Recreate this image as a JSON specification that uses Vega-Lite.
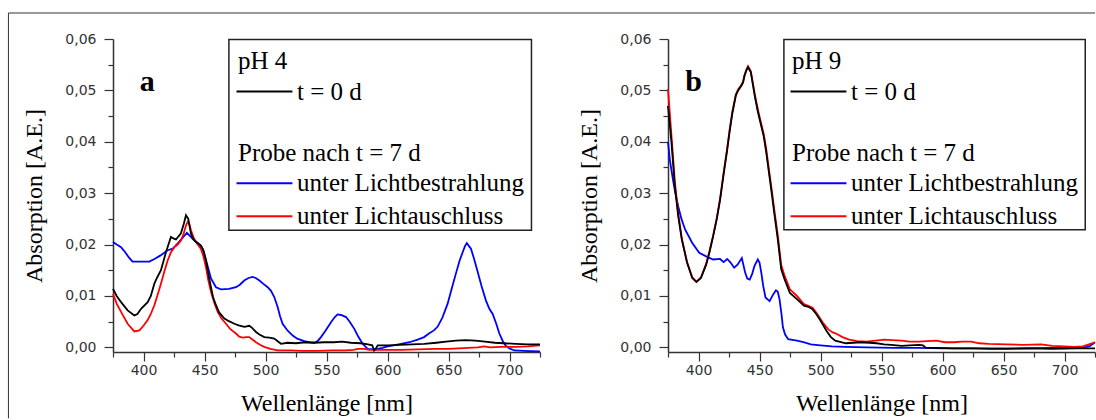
{
  "$schema": "https://vega.github.io/schema/vega-lite/v6.json",
  "background": "white",
  "padding": {"left": 7, "top": 12, "right": 0, "bottom": 0},
  "bounds": "flush",
  "spacing": 128,
  "config": {
    "view": {"stroke": null},
    "axis": {"grid": false, "domainColor": "#333", "domainWidth": 1.5, "tickColor": "#333", "tickWidth": 1.2, "labelFont": "DejaVu Sans", "labelFontSize": 14, "labelColor": "#333", "labelFlush": false, "labelOverlap": false, "titleFont": "Liberation Serif", "titleFontSize": 24, "titleFontWeight": "normal", "titleColor": "#000"},
    "legend": {"orient": "none", "padding": 0, "symbolType": "M-2.5,0H7.5", "symbolSize": 125, "symbolStrokeWidth": 2, "labelOffset": 34, "titlePadding": 5, "rowPadding": 7, "labelFont": "Liberation Serif", "labelFontSize": 25, "labelColor": "#000", "labelLimit": 400, "titleFont": "Liberation Serif", "titleFontSize": 25, "titleFontWeight": "normal", "titleColor": "#000", "titleLimit": 400}
  },
  "resolve": {"scale": {"color": "independent"}, "legend": {"color": "independent"}},
  "datasets": {
    "a0": [
      {"x":375,"y":0.0114},{"x":378,"y":0.0100},{"x":381.6,"y":0.0088},{"x":387,"y":0.0072},{"x":392.5,"y":0.0062},{"x":395,"y":0.0065},{"x":398,"y":0.0075},{"x":403.4,"y":0.0088},{"x":406,"y":0.0100},{"x":408.9,"y":0.0124},{"x":411,"y":0.0135},{"x":414.3,"y":0.0150},{"x":418.4,"y":0.0185},{"x":422.5,"y":0.0215},{"x":424.5,"y":0.0212},{"x":426.6,"y":0.0210},{"x":430.7,"y":0.0222},{"x":433,"y":0.0240},{"x":434.8,"y":0.0257},{"x":436.7,"y":0.0250},{"x":438.9,"y":0.0221},{"x":441,"y":0.0210},{"x":443,"y":0.0205},{"x":447,"y":0.0198},{"x":449,"y":0.0190},{"x":451.2,"y":0.0169},{"x":453,"y":0.0145},{"x":455.3,"y":0.0117},{"x":457,"y":0.0098},{"x":459.4,"y":0.0082},{"x":462,"y":0.0068},{"x":466.3,"y":0.0056},{"x":470,"y":0.0051},{"x":474.5,"y":0.0046},{"x":478,"y":0.0043},{"x":482.7,"y":0.0040},{"x":486.7,"y":0.0042},{"x":489,"y":0.0038},{"x":492.2,"y":0.0030},{"x":495,"y":0.0025},{"x":499,"y":0.0020},{"x":503,"y":0.0019},{"x":507.2,"y":0.0017},{"x":510,"y":0.0012},{"x":512.7,"y":0.0007},{"x":518,"y":0.0009},{"x":525,"y":0.0008},{"x":532,"y":0.0010},{"x":540,"y":0.0009},{"x":548,"y":0.0010},{"x":556,"y":0.0010},{"x":563,"y":0.0011},{"x":570,"y":0.0009},{"x":578,"y":0.0008},{"x":584,"y":0.0006},{"x":587.5,"y":0.0004},{"x":589,"y":-0.0006},{"x":590.5,"y":-0.0002},{"x":592,"y":0.0004},{"x":600,"y":0.0004},{"x":610,"y":0.0005},{"x":620,"y":0.0006},{"x":630,"y":0.0007},{"x":640,"y":0.0009},{"x":648,"y":0.0011},{"x":656,"y":0.0013},{"x":664,"y":0.0014},{"x":672,"y":0.0013},{"x":680,"y":0.0011},{"x":688,"y":0.0009},{"x":695,"y":0.0008},{"x":705,"y":0.0007},{"x":715,"y":0.0006},{"x":725,"y":0.0006}
    ],
    "a7": [
      {"s":"unter Lichtbestrahlung","x":375,"y":0.0205},{"s":"unter Lichtbestrahlung","x":378,"y":0.0200},{"s":"unter Lichtbestrahlung","x":381.6,"y":0.0195},{"s":"unter Lichtbestrahlung","x":385,"y":0.0185},{"s":"unter Lichtbestrahlung","x":388,"y":0.0175},{"s":"unter Lichtbestrahlung","x":391,"y":0.0167},{"s":"unter Lichtbestrahlung","x":398,"y":0.0167},{"s":"unter Lichtbestrahlung","x":404.8,"y":0.0167},{"s":"unter Lichtbestrahlung","x":409,"y":0.0172},{"s":"unter Lichtbestrahlung","x":414,"y":0.0179},{"s":"unter Lichtbestrahlung","x":417,"y":0.0184},{"s":"unter Lichtbestrahlung","x":419.8,"y":0.0189},{"s":"unter Lichtbestrahlung","x":424,"y":0.0192},{"s":"unter Lichtbestrahlung","x":426,"y":0.0197},{"s":"unter Lichtbestrahlung","x":429,"y":0.0205},{"s":"unter Lichtbestrahlung","x":432,"y":0.0213},{"s":"unter Lichtbestrahlung","x":435.6,"y":0.0223},{"s":"unter Lichtbestrahlung","x":438,"y":0.0217},{"s":"unter Lichtbestrahlung","x":440.3,"y":0.0211},{"s":"unter Lichtbestrahlung","x":443.5,"y":0.0205},{"s":"unter Lichtbestrahlung","x":447,"y":0.0198},{"s":"unter Lichtbestrahlung","x":449.5,"y":0.0185},{"s":"unter Lichtbestrahlung","x":452,"y":0.0163},{"s":"unter Lichtbestrahlung","x":455.3,"y":0.0134},{"s":"unter Lichtbestrahlung","x":459.4,"y":0.0117},{"s":"unter Lichtbestrahlung","x":463.5,"y":0.0113},{"s":"unter Lichtbestrahlung","x":470,"y":0.0114},{"s":"unter Lichtbestrahlung","x":475.8,"y":0.0117},{"s":"unter Lichtbestrahlung","x":479,"y":0.0122},{"s":"unter Lichtbestrahlung","x":482.6,"y":0.0130},{"s":"unter Lichtbestrahlung","x":486,"y":0.0135},{"s":"unter Lichtbestrahlung","x":489.5,"y":0.0137},{"s":"unter Lichtbestrahlung","x":492,"y":0.0135},{"s":"unter Lichtbestrahlung","x":495,"y":0.0130},{"s":"unter Lichtbestrahlung","x":498,"y":0.0124},{"s":"unter Lichtbestrahlung","x":501.8,"y":0.0117},{"s":"unter Lichtbestrahlung","x":504.5,"y":0.0110},{"s":"unter Lichtbestrahlung","x":507.2,"y":0.0098},{"s":"unter Lichtbestrahlung","x":510,"y":0.0078},{"s":"unter Lichtbestrahlung","x":512,"y":0.0060},{"s":"unter Lichtbestrahlung","x":514,"y":0.0046},{"s":"unter Lichtbestrahlung","x":518,"y":0.0033},{"s":"unter Lichtbestrahlung","x":522.3,"y":0.0023},{"s":"unter Lichtbestrahlung","x":526,"y":0.0017},{"s":"unter Lichtbestrahlung","x":531.8,"y":0.0012},{"s":"unter Lichtbestrahlung","x":536,"y":0.0010},{"s":"unter Lichtbestrahlung","x":540,"y":0.0009},{"s":"unter Lichtbestrahlung","x":543,"y":0.0013},{"s":"unter Lichtbestrahlung","x":545.5,"y":0.0020},{"s":"unter Lichtbestrahlung","x":549,"y":0.0032},{"s":"unter Lichtbestrahlung","x":553.7,"y":0.0049},{"s":"unter Lichtbestrahlung","x":556.5,"y":0.0058},{"s":"unter Lichtbestrahlung","x":559,"y":0.0064},{"s":"unter Lichtbestrahlung","x":562,"y":0.0063},{"s":"unter Lichtbestrahlung","x":566,"y":0.0059},{"s":"unter Lichtbestrahlung","x":569,"y":0.0050},{"s":"unter Lichtbestrahlung","x":572.8,"y":0.0036},{"s":"unter Lichtbestrahlung","x":576,"y":0.0021},{"s":"unter Lichtbestrahlung","x":579.6,"y":0.0007},{"s":"unter Lichtbestrahlung","x":583.7,"y":-0.0003},{"s":"unter Lichtbestrahlung","x":588,"y":-0.0004},{"s":"unter Lichtbestrahlung","x":592,"y":-0.0003},{"s":"unter Lichtbestrahlung","x":596,"y":-0.0001},{"s":"unter Lichtbestrahlung","x":600,"y":0.0002},{"s":"unter Lichtbestrahlung","x":605,"y":0.0004},{"s":"unter Lichtbestrahlung","x":611,"y":0.0007},{"s":"unter Lichtbestrahlung","x":618,"y":0.0010},{"s":"unter Lichtbestrahlung","x":624.7,"y":0.0015},{"s":"unter Lichtbestrahlung","x":630,"y":0.0020},{"s":"unter Lichtbestrahlung","x":634,"y":0.0027},{"s":"unter Lichtbestrahlung","x":638,"y":0.0033},{"s":"unter Lichtbestrahlung","x":641,"y":0.0040},{"s":"unter Lichtbestrahlung","x":645,"y":0.0058},{"s":"unter Lichtbestrahlung","x":649.3,"y":0.0085},{"s":"unter Lichtbestrahlung","x":652.5,"y":0.0113},{"s":"unter Lichtbestrahlung","x":656,"y":0.0143},{"s":"unter Lichtbestrahlung","x":659,"y":0.0168},{"s":"unter Lichtbestrahlung","x":661.6,"y":0.0185},{"s":"unter Lichtbestrahlung","x":663.5,"y":0.0197},{"s":"unter Lichtbestrahlung","x":665,"y":0.0203},{"s":"unter Lichtbestrahlung","x":666.5,"y":0.0198},{"s":"unter Lichtbestrahlung","x":668.4,"y":0.0192},{"s":"unter Lichtbestrahlung","x":671,"y":0.0172},{"s":"unter Lichtbestrahlung","x":673.9,"y":0.0147},{"s":"unter Lichtbestrahlung","x":677,"y":0.0120},{"s":"unter Lichtbestrahlung","x":680.7,"y":0.0091},{"s":"unter Lichtbestrahlung","x":683.5,"y":0.0075},{"s":"unter Lichtbestrahlung","x":686.2,"y":0.0065},{"s":"unter Lichtbestrahlung","x":689,"y":0.0047},{"s":"unter Lichtbestrahlung","x":691.7,"y":0.0027},{"s":"unter Lichtbestrahlung","x":694.5,"y":0.0012},{"s":"unter Lichtbestrahlung","x":697,"y":0.0003},{"s":"unter Lichtbestrahlung","x":700,"y":-0.0002},{"s":"unter Lichtbestrahlung","x":704,"y":-0.0006},{"s":"unter Lichtbestrahlung","x":712,"y":-0.0007},{"s":"unter Lichtbestrahlung","x":725,"y":-0.0008},
      {"s":"unter Lichtauschluss","x":375,"y":0.0104},{"s":"unter Lichtauschluss","x":378,"y":0.0085},{"s":"unter Lichtauschluss","x":381.6,"y":0.0069},{"s":"unter Lichtauschluss","x":387,"y":0.0046},{"s":"unter Lichtauschluss","x":392.5,"y":0.0031},{"s":"unter Lichtauschluss","x":396.6,"y":0.0033},{"s":"unter Lichtauschluss","x":400,"y":0.0042},{"s":"unter Lichtauschluss","x":403.4,"y":0.0053},{"s":"unter Lichtauschluss","x":406,"y":0.0065},{"s":"unter Lichtauschluss","x":408.9,"y":0.0082},{"s":"unter Lichtauschluss","x":411.5,"y":0.0102},{"s":"unter Lichtauschluss","x":414.3,"y":0.0124},{"s":"unter Lichtauschluss","x":417,"y":0.0147},{"s":"unter Lichtauschluss","x":419.8,"y":0.0169},{"s":"unter Lichtauschluss","x":422.5,"y":0.0185},{"s":"unter Lichtauschluss","x":425.3,"y":0.0195},{"s":"unter Lichtauschluss","x":428,"y":0.0200},{"s":"unter Lichtauschluss","x":430.7,"y":0.0208},{"s":"unter Lichtauschluss","x":433,"y":0.0222},{"s":"unter Lichtauschluss","x":434.8,"y":0.0237},{"s":"unter Lichtauschluss","x":436.2,"y":0.0244},{"s":"unter Lichtauschluss","x":437.5,"y":0.0240},{"s":"unter Lichtauschluss","x":438.9,"y":0.0228},{"s":"unter Lichtauschluss","x":441,"y":0.0214},{"s":"unter Lichtauschluss","x":443,"y":0.0205},{"s":"unter Lichtauschluss","x":447,"y":0.0192},{"s":"unter Lichtauschluss","x":449,"y":0.0178},{"s":"unter Lichtauschluss","x":451.2,"y":0.0156},{"s":"unter Lichtauschluss","x":453,"y":0.0132},{"s":"unter Lichtauschluss","x":455.3,"y":0.0108},{"s":"unter Lichtauschluss","x":458,"y":0.0087},{"s":"unter Lichtauschluss","x":460.8,"y":0.0069},{"s":"unter Lichtauschluss","x":464,"y":0.0056},{"s":"unter Lichtauschluss","x":467.6,"y":0.0046},{"s":"unter Lichtauschluss","x":471,"y":0.0036},{"s":"unter Lichtauschluss","x":475.8,"y":0.0027},{"s":"unter Lichtauschluss","x":478.5,"y":0.0021},{"s":"unter Lichtauschluss","x":481.3,"y":0.0019},{"s":"unter Lichtauschluss","x":484,"y":0.0020},{"s":"unter Lichtauschluss","x":486.7,"y":0.0020},{"s":"unter Lichtauschluss","x":489.5,"y":0.0015},{"s":"unter Lichtauschluss","x":492.2,"y":0.0010},{"s":"unter Lichtauschluss","x":495.5,"y":0.0005},{"s":"unter Lichtauschluss","x":499,"y":0.0001},{"s":"unter Lichtauschluss","x":504,"y":-0.0003},{"s":"unter Lichtauschluss","x":510,"y":-0.0006},{"s":"unter Lichtauschluss","x":520,"y":-0.0006},{"s":"unter Lichtauschluss","x":530,"y":-0.0007},{"s":"unter Lichtauschluss","x":542.8,"y":-0.0007},{"s":"unter Lichtauschluss","x":555,"y":-0.0006},{"s":"unter Lichtauschluss","x":565,"y":-0.0006},{"s":"unter Lichtauschluss","x":572,"y":-0.0005},{"s":"unter Lichtauschluss","x":576,"y":-0.0003},{"s":"unter Lichtauschluss","x":580.8,"y":-0.0003},{"s":"unter Lichtauschluss","x":585,"y":-0.0005},{"s":"unter Lichtauschluss","x":595,"y":-0.0005},{"s":"unter Lichtauschluss","x":610.7,"y":-0.0005},{"s":"unter Lichtauschluss","x":625,"y":-0.0004},{"s":"unter Lichtauschluss","x":638.4,"y":-0.0003},{"s":"unter Lichtauschluss","x":650,"y":-0.0003},{"s":"unter Lichtauschluss","x":666,"y":-0.0001},{"s":"unter Lichtauschluss","x":674,"y":0.0000},{"s":"unter Lichtauschluss","x":679.4,"y":0.0002},{"s":"unter Lichtauschluss","x":684,"y":0.0000},{"s":"unter Lichtauschluss","x":693,"y":0.0001},{"s":"unter Lichtauschluss","x":705,"y":0.0001},{"s":"unter Lichtauschluss","x":715,"y":0.0002},{"s":"unter Lichtauschluss","x":725,"y":0.0004}
    ],
    "b0": [
      {"x":375,"y":0.0470},{"x":377.7,"y":0.0403},{"x":380.6,"y":0.0313},{"x":383.4,"y":0.0255},{"x":386.3,"y":0.0210},{"x":390.6,"y":0.0165},{"x":394.9,"y":0.0135},{"x":398.3,"y":0.0127},{"x":402,"y":0.0135},{"x":406.3,"y":0.0161},{"x":409,"y":0.0185},{"x":412,"y":0.0216},{"x":415,"y":0.0250},{"x":417.7,"y":0.0287},{"x":420.5,"y":0.0335},{"x":423.5,"y":0.0384},{"x":425.5,"y":0.0420},{"x":427.7,"y":0.0455},{"x":430.6,"y":0.0490},{"x":432.5,"y":0.0500},{"x":434.9,"y":0.0508},{"x":436.5,"y":0.0515},{"x":437.8,"y":0.0529},{"x":439.5,"y":0.0540},{"x":440.6,"y":0.0545},{"x":442.9,"y":0.0535},{"x":444.5,"y":0.0512},{"x":446.3,"y":0.0487},{"x":448.5,"y":0.0460},{"x":450.6,"y":0.0439},{"x":453.5,"y":0.0410},{"x":455.5,"y":0.0380},{"x":457.8,"y":0.0339},{"x":460,"y":0.0300},{"x":462.1,"y":0.0261},{"x":465,"y":0.0210},{"x":467.8,"y":0.0152},{"x":470.6,"y":0.0132},{"x":474.9,"y":0.0106},{"x":480.7,"y":0.0094},{"x":486.4,"y":0.0081},{"x":490,"y":0.0079},{"x":493.5,"y":0.0074},{"x":496.5,"y":0.0065},{"x":499.2,"y":0.0055},{"x":502,"y":0.0044},{"x":505,"y":0.0032},{"x":508.5,"y":0.0020},{"x":512.1,"y":0.0013},{"x":520.7,"y":0.0008},{"x":527,"y":0.0009},{"x":532.1,"y":0.0010},{"x":540,"y":0.0009},{"x":546,"y":0.0008},{"x":552.2,"y":0.0006},{"x":558,"y":0.0005},{"x":566.5,"y":0.0003},{"x":573,"y":0.0004},{"x":580.8,"y":0.0005},{"x":584,"y":0.0004},{"x":586.5,"y":-0.0001},{"x":595,"y":-0.0001},{"x":609.4,"y":-0.0002},{"x":625,"y":-0.0002},{"x":640,"y":-0.0003},{"x":652.3,"y":-0.0003},{"x":670,"y":-0.0002},{"x":690,"y":-0.0003},{"x":710,"y":-0.0002},{"x":725,"y":-0.0002}
    ],
    "b7": [
      {"s":"unter Lichtbestrahlung","x":375,"y":0.0400},{"s":"unter Lichtbestrahlung","x":376.5,"y":0.0365},{"s":"unter Lichtbestrahlung","x":379.1,"y":0.0326},{"s":"unter Lichtbestrahlung","x":381,"y":0.0300},{"s":"unter Lichtbestrahlung","x":383.4,"y":0.0274},{"s":"unter Lichtbestrahlung","x":386,"y":0.0250},{"s":"unter Lichtbestrahlung","x":389.1,"y":0.0229},{"s":"unter Lichtbestrahlung","x":394.9,"y":0.0203},{"s":"unter Lichtbestrahlung","x":400.6,"y":0.0184},{"s":"unter Lichtbestrahlung","x":406.3,"y":0.0177},{"s":"unter Lichtbestrahlung","x":412,"y":0.0171},{"s":"unter Lichtbestrahlung","x":417.7,"y":0.0172},{"s":"unter Lichtbestrahlung","x":420.6,"y":0.0166},{"s":"unter Lichtbestrahlung","x":423.5,"y":0.0172},{"s":"unter Lichtbestrahlung","x":426.3,"y":0.0165},{"s":"unter Lichtbestrahlung","x":429.2,"y":0.0155},{"s":"unter Lichtbestrahlung","x":432,"y":0.0161},{"s":"unter Lichtbestrahlung","x":435.5,"y":0.0174},{"s":"unter Lichtbestrahlung","x":438.3,"y":0.0145},{"s":"unter Lichtbestrahlung","x":440,"y":0.0134},{"s":"unter Lichtbestrahlung","x":442,"y":0.0132},{"s":"unter Lichtbestrahlung","x":444,"y":0.0143},{"s":"unter Lichtbestrahlung","x":445.8,"y":0.0158},{"s":"unter Lichtbestrahlung","x":448.6,"y":0.0171},{"s":"unter Lichtbestrahlung","x":450,"y":0.0165},{"s":"unter Lichtbestrahlung","x":451.5,"y":0.0145},{"s":"unter Lichtbestrahlung","x":453,"y":0.0120},{"s":"unter Lichtbestrahlung","x":454.9,"y":0.0097},{"s":"unter Lichtbestrahlung","x":458.3,"y":0.0090},{"s":"unter Lichtbestrahlung","x":461.2,"y":0.0103},{"s":"unter Lichtbestrahlung","x":463.5,"y":0.0111},{"s":"unter Lichtbestrahlung","x":465,"y":0.0108},{"s":"unter Lichtbestrahlung","x":466.4,"y":0.0094},{"s":"unter Lichtbestrahlung","x":468,"y":0.0065},{"s":"unter Lichtbestrahlung","x":469.2,"y":0.0039},{"s":"unter Lichtbestrahlung","x":471,"y":0.0025},{"s":"unter Lichtbestrahlung","x":473.5,"y":0.0016},{"s":"unter Lichtbestrahlung","x":480.7,"y":0.0013},{"s":"unter Lichtbestrahlung","x":486,"y":0.0010},{"s":"unter Lichtbestrahlung","x":492.1,"y":0.0006},{"s":"unter Lichtbestrahlung","x":500,"y":0.0004},{"s":"unter Lichtbestrahlung","x":509.3,"y":0.0002},{"s":"unter Lichtbestrahlung","x":520,"y":0.0001},{"s":"unter Lichtbestrahlung","x":537.9,"y":0.0000},{"s":"unter Lichtbestrahlung","x":560,"y":-0.0001},{"s":"unter Lichtbestrahlung","x":580,"y":-0.0001},{"s":"unter Lichtbestrahlung","x":600,"y":-0.0002},{"s":"unter Lichtbestrahlung","x":630,"y":-0.0002},{"s":"unter Lichtbestrahlung","x":660,"y":-0.0002},{"s":"unter Lichtbestrahlung","x":690,"y":-0.0001},{"s":"unter Lichtbestrahlung","x":710,"y":-0.0001},{"s":"unter Lichtbestrahlung","x":718,"y":0.0001},{"s":"unter Lichtbestrahlung","x":721,"y":0.0003},{"s":"unter Lichtbestrahlung","x":725,"y":0.0010},
      {"s":"unter Lichtauschluss","x":375,"y":0.0503},{"s":"unter Lichtauschluss","x":377.7,"y":0.0416},{"s":"unter Lichtauschluss","x":380.6,"y":0.0323},{"s":"unter Lichtauschluss","x":383.4,"y":0.0260},{"s":"unter Lichtauschluss","x":386.3,"y":0.0212},{"s":"unter Lichtauschluss","x":390.6,"y":0.0166},{"s":"unter Lichtauschluss","x":394.9,"y":0.0136},{"s":"unter Lichtauschluss","x":398.3,"y":0.0128},{"s":"unter Lichtauschluss","x":402,"y":0.0136},{"s":"unter Lichtauschluss","x":406.3,"y":0.0163},{"s":"unter Lichtauschluss","x":409,"y":0.0187},{"s":"unter Lichtauschluss","x":412,"y":0.0218},{"s":"unter Lichtauschluss","x":415,"y":0.0252},{"s":"unter Lichtauschluss","x":417.7,"y":0.0290},{"s":"unter Lichtauschluss","x":420.5,"y":0.0338},{"s":"unter Lichtauschluss","x":423.5,"y":0.0387},{"s":"unter Lichtauschluss","x":425.5,"y":0.0423},{"s":"unter Lichtauschluss","x":427.7,"y":0.0458},{"s":"unter Lichtauschluss","x":430.6,"y":0.0492},{"s":"unter Lichtauschluss","x":432.5,"y":0.0502},{"s":"unter Lichtauschluss","x":434.9,"y":0.0510},{"s":"unter Lichtauschluss","x":436.5,"y":0.0517},{"s":"unter Lichtauschluss","x":437.8,"y":0.0531},{"s":"unter Lichtauschluss","x":439.5,"y":0.0542},{"s":"unter Lichtauschluss","x":440.6,"y":0.0547},{"s":"unter Lichtauschluss","x":442.9,"y":0.0537},{"s":"unter Lichtauschluss","x":444.5,"y":0.0515},{"s":"unter Lichtauschluss","x":446.3,"y":0.0490},{"s":"unter Lichtauschluss","x":448.5,"y":0.0465},{"s":"unter Lichtauschluss","x":450.6,"y":0.0443},{"s":"unter Lichtauschluss","x":453.5,"y":0.0415},{"s":"unter Lichtauschluss","x":455.5,"y":0.0386},{"s":"unter Lichtauschluss","x":457.8,"y":0.0345},{"s":"unter Lichtauschluss","x":460,"y":0.0307},{"s":"unter Lichtauschluss","x":462.1,"y":0.0268},{"s":"unter Lichtauschluss","x":465,"y":0.0218},{"s":"unter Lichtauschluss","x":467.8,"y":0.0160},{"s":"unter Lichtauschluss","x":470.6,"y":0.0139},{"s":"unter Lichtauschluss","x":474.9,"y":0.0113},{"s":"unter Lichtauschluss","x":480.7,"y":0.0100},{"s":"unter Lichtauschluss","x":486.4,"y":0.0084},{"s":"unter Lichtauschluss","x":490,"y":0.0081},{"s":"unter Lichtauschluss","x":493.5,"y":0.0077},{"s":"unter Lichtauschluss","x":496.5,"y":0.0068},{"s":"unter Lichtauschluss","x":499.2,"y":0.0058},{"s":"unter Lichtauschluss","x":502,"y":0.0048},{"s":"unter Lichtauschluss","x":506.4,"y":0.0035},{"s":"unter Lichtauschluss","x":510,"y":0.0029},{"s":"unter Lichtauschluss","x":513.5,"y":0.0026},{"s":"unter Lichtauschluss","x":518,"y":0.0020},{"s":"unter Lichtauschluss","x":523.5,"y":0.0015},{"s":"unter Lichtauschluss","x":530,"y":0.0012},{"s":"unter Lichtauschluss","x":537.9,"y":0.0011},{"s":"unter Lichtauschluss","x":545,"y":0.0013},{"s":"unter Lichtauschluss","x":552.2,"y":0.0015},{"s":"unter Lichtauschluss","x":559,"y":0.0014},{"s":"unter Lichtauschluss","x":566.5,"y":0.0013},{"s":"unter Lichtauschluss","x":573,"y":0.0011},{"s":"unter Lichtauschluss","x":580.8,"y":0.0011},{"s":"unter Lichtauschluss","x":587,"y":0.0012},{"s":"unter Lichtauschluss","x":595,"y":0.0013},{"s":"unter Lichtauschluss","x":602,"y":0.0010},{"s":"unter Lichtauschluss","x":609.4,"y":0.0010},{"s":"unter Lichtauschluss","x":616,"y":0.0011},{"s":"unter Lichtauschluss","x":623.6,"y":0.0011},{"s":"unter Lichtauschluss","x":630,"y":0.0008},{"s":"unter Lichtauschluss","x":638,"y":0.0007},{"s":"unter Lichtauschluss","x":652.3,"y":0.0006},{"s":"unter Lichtauschluss","x":666,"y":0.0005},{"s":"unter Lichtauschluss","x":680.9,"y":0.0006},{"s":"unter Lichtauschluss","x":690,"y":0.0003},{"s":"unter Lichtauschluss","x":700,"y":0.0002},{"s":"unter Lichtauschluss","x":708,"y":0.0001},{"s":"unter Lichtauschluss","x":715,"y":0.0002},{"s":"unter Lichtauschluss","x":720,"y":0.0006},{"s":"unter Lichtauschluss","x":725,"y":0.0010}
    ]
  },
  "hconcat": [
    {
      "width": 427,
      "height": 313,
      "resolve": {"scale": {"color": "independent"}, "legend": {"color": "independent"}, "axis": {"x": "independent", "y": "independent"}},
      "layer": [
        {
          "data": {"values": [{}]},
          "mark": {"type": "rule", "stroke": "#333", "strokeWidth": 1},
          "encoding": {
            "x": {"datum": 289.3, "type": "quantitative", "scale": {"domain": [375, 725], "nice": false, "zero": false}, "axis": null},
            "x2": {"datum": 1180},
            "y": {"datum": 0.06506, "type": "quantitative", "scale": {"domain": [-0.0009, 0.06], "nice": false, "zero": false}, "axis": null}
          }
        },
        {
          "data": {"values": [{}]},
          "mark": {"type": "rule", "stroke": "#333", "strokeWidth": 1},
          "encoding": {
            "x": {"datum": 289.3, "type": "quantitative", "scale": {"domain": [375, 725], "nice": false, "zero": false}, "axis": null},
            "y": {"datum": 0.06506, "type": "quantitative", "scale": {"domain": [-0.0009, 0.06], "nice": false, "zero": false}, "axis": null},
            "y2": {"datum": -0.0138}
          }
        },
        {
          "data": {"values": [{}]},
          "mark": {"type": "rect", "fill": "transparent", "stroke": "#222", "strokeWidth": 1.5},
          "encoding": {
            "x": {"datum": 470, "type": "quantitative", "scale": {"domain": [375, 725], "nice": false, "zero": false}, "axis": {"orient": "bottom", "values": [375, 425, 475, 525, 575, 625, 675, 725], "labels": false, "domain": false, "tickSize": 5, "title": null}},
            "x2": {"datum": 718},
            "y": {"datum": 0.0599, "type": "quantitative", "scale": {"domain": [-0.0009, 0.06], "nice": false, "zero": false}, "axis": {"orient": "left", "values": [0.005, 0.015, 0.025, 0.035, 0.045, 0.055], "labels": false, "domain": false, "tickSize": 5, "title": null}},
            "y2": {"datum": 0.0228}
          }
        },
        {
          "data": {"values": [{}]},
          "mark": {"type": "text", "text": "a", "font": "Liberation Serif", "fontSize": 30, "fontWeight": "bold", "align": "center", "baseline": "alphabetic", "color": "#000"},
          "encoding": {
            "x": {"datum": 403, "type": "quantitative", "scale": {"domain": [375, 725], "nice": false, "zero": false}, "axis": null},
            "y": {"datum": 0.0499, "type": "quantitative", "scale": {"domain": [-0.0009, 0.06], "nice": false, "zero": false}, "axis": null}
          }
        },
        {
          "data": {"name": "a7"},
          "mark": {"type": "line", "strokeWidth": 1.8},
          "encoding": {
            "x": {"field": "x", "type": "quantitative", "scale": {"domain": [375, 725], "nice": false, "zero": false}, "axis": null},
            "y": {"field": "y", "type": "quantitative", "scale": {"domain": [-0.0009, 0.06], "nice": false, "zero": false}, "axis": null},
            "color": {"field": "s", "type": "nominal", "scale": {"domain": ["unter Lichtbestrahlung", "unter Lichtauschluss"], "range": ["#0000ff", "#ff0000"]}, "legend": {"title": "Probe nach t = 7 d", "legendX": 125, "legendY": 101.75}}
          }
        },
        {
          "data": {"name": "a0"},
          "mark": {"type": "line", "strokeWidth": 1.8},
          "encoding": {
            "x": {"field": "x", "type": "quantitative", "scale": {"domain": [375, 725], "nice": false, "zero": false}, "axis": {"orient": "bottom", "values": [400, 450, 500, 550, 600, 650, 700], "format": "d", "tickSize": 9, "labelPadding": 2, "title": "Wellenlänge [nm]", "titlePadding": 14}},
            "y": {"field": "y", "type": "quantitative", "scale": {"domain": [-0.0009, 0.06], "nice": false, "zero": false}, "axis": {"orient": "left", "values": [0, 0.01, 0.02, 0.03, 0.04, 0.05, 0.06], "labelExpr": "replace(format(datum.value, '.2f'), '.', ',')", "tickSize": 9, "labelPadding": 8, "title": "Absorption [A.E.]", "titlePadding": 18}},
            "color": {"datum": "t = 0 d", "type": "nominal", "scale": {"domain": ["t = 0 d"], "range": ["#000000"]}, "legend": {"title": "pH 4", "legendX": 125, "legendY": 10}}
          }
        }
      ]
    },
    {
      "width": 427,
      "height": 313,
      "resolve": {"scale": {"color": "independent"}, "legend": {"color": "independent"}, "axis": {"x": "independent", "y": "independent"}},
      "layer": [
        {
          "data": {"values": [{}]},
          "mark": {"type": "rect", "fill": "transparent", "stroke": "#222", "strokeWidth": 1.5},
          "encoding": {
            "x": {"datum": 470, "type": "quantitative", "scale": {"domain": [375, 725], "nice": false, "zero": false}, "axis": {"orient": "bottom", "values": [375, 425, 475, 525, 575, 625, 675, 725], "labels": false, "domain": false, "tickSize": 5, "title": null}},
            "x2": {"datum": 717},
            "y": {"datum": 0.0599, "type": "quantitative", "scale": {"domain": [-0.0009, 0.06], "nice": false, "zero": false}, "axis": {"orient": "left", "values": [0.005, 0.015, 0.025, 0.035, 0.045, 0.055], "labels": false, "domain": false, "tickSize": 5, "title": null}},
            "y2": {"datum": 0.0229}
          }
        },
        {
          "data": {"values": [{}]},
          "mark": {"type": "text", "text": "b", "font": "Liberation Serif", "fontSize": 30, "fontWeight": "bold", "align": "center", "baseline": "alphabetic", "color": "#000"},
          "encoding": {
            "x": {"datum": 396, "type": "quantitative", "scale": {"domain": [375, 725], "nice": false, "zero": false}, "axis": null},
            "y": {"datum": 0.0499, "type": "quantitative", "scale": {"domain": [-0.0009, 0.06], "nice": false, "zero": false}, "axis": null}
          }
        },
        {
          "data": {"name": "b7"},
          "mark": {"type": "line", "strokeWidth": 1.8},
          "encoding": {
            "x": {"field": "x", "type": "quantitative", "scale": {"domain": [375, 725], "nice": false, "zero": false}, "axis": null},
            "y": {"field": "y", "type": "quantitative", "scale": {"domain": [-0.0009, 0.06], "nice": false, "zero": false}, "axis": null},
            "color": {"field": "s", "type": "nominal", "scale": {"domain": ["unter Lichtbestrahlung", "unter Lichtauschluss"], "range": ["#0000ff", "#ff0000"]}, "legend": {"title": "Probe nach t = 7 d", "legendX": 124, "legendY": 101.75}}
          }
        },
        {
          "data": {"name": "b0"},
          "mark": {"type": "line", "strokeWidth": 1.8},
          "encoding": {
            "x": {"field": "x", "type": "quantitative", "scale": {"domain": [375, 725], "nice": false, "zero": false}, "axis": {"orient": "bottom", "values": [400, 450, 500, 550, 600, 650, 700], "format": "d", "tickSize": 9, "labelPadding": 2, "title": "Wellenlänge [nm]", "titlePadding": 14}},
            "y": {"field": "y", "type": "quantitative", "scale": {"domain": [-0.0009, 0.06], "nice": false, "zero": false}, "axis": {"orient": "left", "values": [0, 0.01, 0.02, 0.03, 0.04, 0.05, 0.06], "labelExpr": "replace(format(datum.value, '.2f'), '.', ',')", "tickSize": 9, "labelPadding": 8, "title": "Absorption [A.E.]", "titlePadding": 18}},
            "color": {"datum": "t = 0 d", "type": "nominal", "scale": {"domain": ["t = 0 d"], "range": ["#000000"]}, "legend": {"title": "pH 9", "legendX": 124, "legendY": 10}}
          }
        }
      ]
    }
  ]
}
